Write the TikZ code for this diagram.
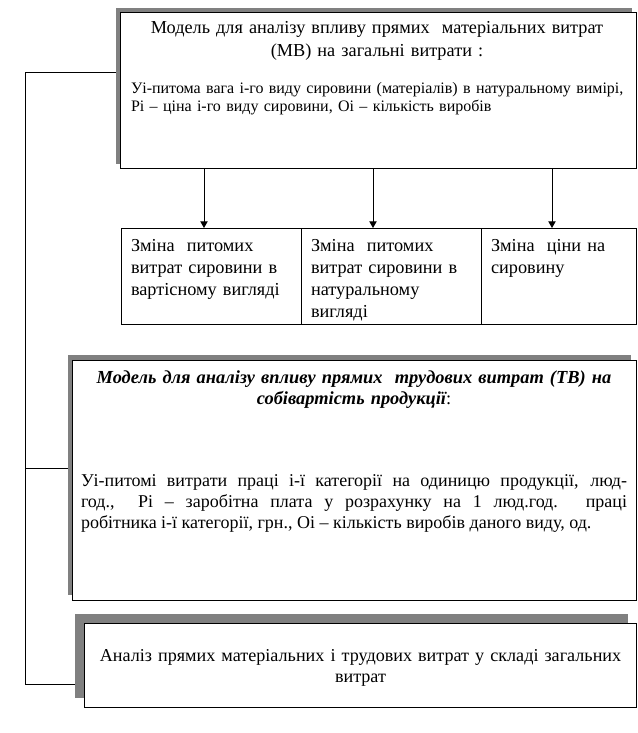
\documentclass[tikz,border=0pt]{standalone}
\usepackage{fontspec}
\setmainfont{Liberation Serif}
\usetikzlibrary{arrows.meta,fit}
\definecolor{shadowgray}{RGB}{128,128,128}
\tikzset{
  boxst/.style={draw=black, fill=white, line width=0.75pt, inner sep=0pt, outer sep=0pt},
  shadowst/.style={fill=shadowgray, draw=none, inner sep=0pt, outer sep=0pt},
  linest/.style={draw=black, line width=0.75pt},
  arr/.style={linest, -{Triangle[width=5.5pt,length=5pt]}},
  txt/.style={inner sep=0pt, outer sep=0pt},
}
\begin{document}
\begin{tikzpicture}[x=0.75pt,y=-0.75pt]
\useasboundingbox (0,0) rectangle (637,733);
% left connector line
\coordinate (lt) at (25,72);
\coordinate (lm) at (25,468);
\coordinate (lb) at (25,684);
% shadows
\node[shadowst, fit={(115.5,7.5) (631.5,163.5)}] (sh1) {};
\node[shadowst, fit={(67.5,355) (631,595)}] (sh2) {};
\node[shadowst, fit={(75,614) (627.5,698)}] (sh3) {};
% boxes
\node[boxst, fit={(120,12) (636,168)}] (top) {};
\node[boxst, fit={(121,228) (301,324)}] (s1) {};
\node[boxst, fit={(301,228) (481,324)}] (s2) {};
\node[boxst, fit={(481,228) (636,324)}] (s3) {};
\node[boxst, fit={(72.5,360) (636,600)}] (mid) {};
\node[boxst, fit={(84,623) (636.5,707)}] (bot) {};
% connectors
\draw[linest] (sh1.west |- lt) -- (lt) -- (lb) -- (sh3.west |- lb);
\draw[linest] (lm) -- (sh2.west |- lm);
\draw[arr] (top.south -| 204,0) -- (s1.north -| 204,0);
\draw[arr] (top.south -| 373,0) -- (s2.north -| 373,0);
\draw[arr] (top.south -| 552,0) -- (s3.north -| 552,0);
% texts
\node[txt, anchor=north, text width=380pt, align=center, font=\fontsize{13.7}{17.25}\selectfont] (ttitle) at (377,16.9)
  {\strut Модель для аналізу впливу прямих\ \ матеріальних витрат\\(МВ) на загальні витрати :};
\node[txt, anchor=north west, text width=380pt, align=left, font=\fontsize{12}{13.5}\selectfont] (tbody) at (131,80.4)
  {\strut Уі-питома вага і-го виду сировини (матеріалів) в натуральному вимірі,\\Рі – ціна і-го виду сировини, Оі – кількість виробів};
\node[txt, anchor=north west, text width=165pt, align=left, font=\fontsize{13.7}{16.5}\selectfont] (t1) at (131,235.6)
  {\strut Зміна\ \ питомих\\витрат сировини в\\вартісному вигляді};
\node[txt, anchor=north west, text width=165pt, align=left, font=\fontsize{13.7}{16.5}\selectfont] (t2) at (311,235.6)
  {\strut Зміна\ \ питомих\\витрат сировини в\\натуральному\\вигляді};
\node[txt, anchor=north west, text width=140pt, align=left, font=\fontsize{13.7}{16.5}\selectfont] (t3) at (491,235.6)
  {\strut Зміна\ \ ціни на\\сировину};
\node[txt, anchor=north, text width=420pt, align=center, font=\fontsize{13.8}{15.4}\selectfont] (mtitle) at (354,369.6)
  {\strut{\bfseries\itshape Модель для аналізу впливу прямих\ \ трудових витрат (ТВ) на\\собівартість продукції}:};
\node[txt, anchor=north west, text width=409.5pt, align=justify, font=\fontsize{13.5}{15.75}\selectfont] (mbody) at (81,472)
  {\hyphenpenalty=10000\strut Уі-питомі витрати праці і-ї категорії на одиницю продукції, люд-\linebreak год.,\ \ Рі – заробітна плата у розрахунку на 1 люд.год. праці\linebreak робітника і-ї категорії, грн., Оі – кількість виробів даного виду, од.};
\node[txt, anchor=north, text width=410pt, align=center, font=\fontsize{13.6}{15.75}\selectfont] (btext) at (360.5,646.3)
  {\strut Аналіз прямих матеріальних і трудових витрат у складі загальних\\витрат};
\end{tikzpicture}
\end{document}
